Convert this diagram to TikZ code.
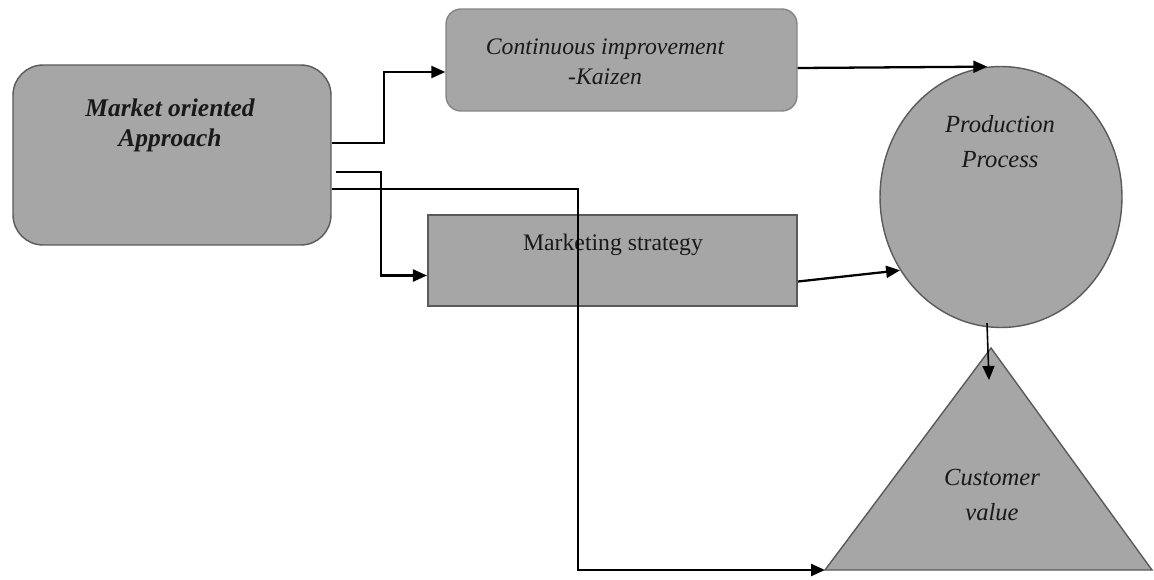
\documentclass[tikz,border=0pt]{standalone}
\usepackage{fontspec}
\setmainfont{Liberation Serif}
\usetikzlibrary{shapes.geometric,arrows.meta,positioning,calc}
\definecolor{boxfill}{HTML}{A6A6A6}
\definecolor{boxline}{HTML}{5A5A5A}
\tikzset{
  shapebox/.style={draw=boxline, fill=boxfill, line width=0.8pt, inner sep=0pt},
  conn/.style={draw=black, line width=1.3pt, -{Triangle[length=0.28cm,width=0.24cm]}},
  lbl/.style={align=center, text=black!90}
}
\begin{document}
\begin{tikzpicture}[x=0.02cm,y=-0.02cm]
    \useasboundingbox (0,0) rectangle (1154,579);
    % Market oriented approach
    \node[shapebox, rounded corners=0.6cm, minimum width=6.36cm, minimum height=3.6cm] (mkt) at (172,155) {};
    \node[lbl, font=\fontsize{14.5}{17}\selectfont\bfseries\itshape] (mkttxt) at (170,125) {Market oriented\\Approach};
    % Continuous improvement
    \node[shapebox, draw=boxfill!80!black, rounded corners=0.3cm, minimum width=7.02cm, minimum height=2.04cm] (cont) at (621.5,60) {};
    \node[lbl, font=\fontsize{13.5}{17}\selectfont\itshape] (conttxt) at (605,62) {Continuous improvement\\-Kaizen};
    % Marketing strategy
    \node[shapebox, line width=1.2pt, minimum width=7.38cm, minimum height=1.82cm] (mstrat) at (612.5,260.5) {};
    \node[lbl, font=\fontsize{13.5}{17}\selectfont] (mstrattxt) at (613,245) {Marketing strategy};
    % Production process
    \node[shapebox, ellipse, minimum width=4.84cm, minimum height=5.22cm] (pp) at (1001,197) {};
    \node[lbl, font=\fontsize{14}{20}\selectfont\itshape] (pptxt) at (1000,142) {Production\\Process};
    % Customer value
    \coordinate (cv-top) at (991,348);
    \coordinate (cv-left) at (825,570);
    \coordinate (cv-right) at (1152,570);
    \draw[draw=boxline, fill=boxfill, line width=0.8pt] (cv-top) -- (cv-left) -- (cv-right) -- cycle;
    \node[lbl, font=\fontsize{14}{20}\selectfont\itshape] (cvtxt) at (992,495) {Customer\\value};
    % Connectors
    \draw[conn] ($(mkt.east)+(0,-12)$) -- ++(52,0) |- ($(cont.west)+(0,12)$);
    \draw[conn] ($(mkt.east)+(4,17)$) -- ++(45,0) |- ($(mstrat.west)+(0,15)$);
    \draw[conn] ($(mkt.east)+(0,34)$) -- ++(246,0) |- (cv-left);
    \draw[conn] ($(cont.east)+(0,8)$) -- (pp.96);
    \draw[conn] ($(mstrat.east)+(0,21)$) -- (pp.216);
    \draw[conn, line width=0.9pt] ($(pp.south)+(-14,-5)$) -- ($(cv-top)+(-2,32)$);
\end{tikzpicture}
\end{document}
